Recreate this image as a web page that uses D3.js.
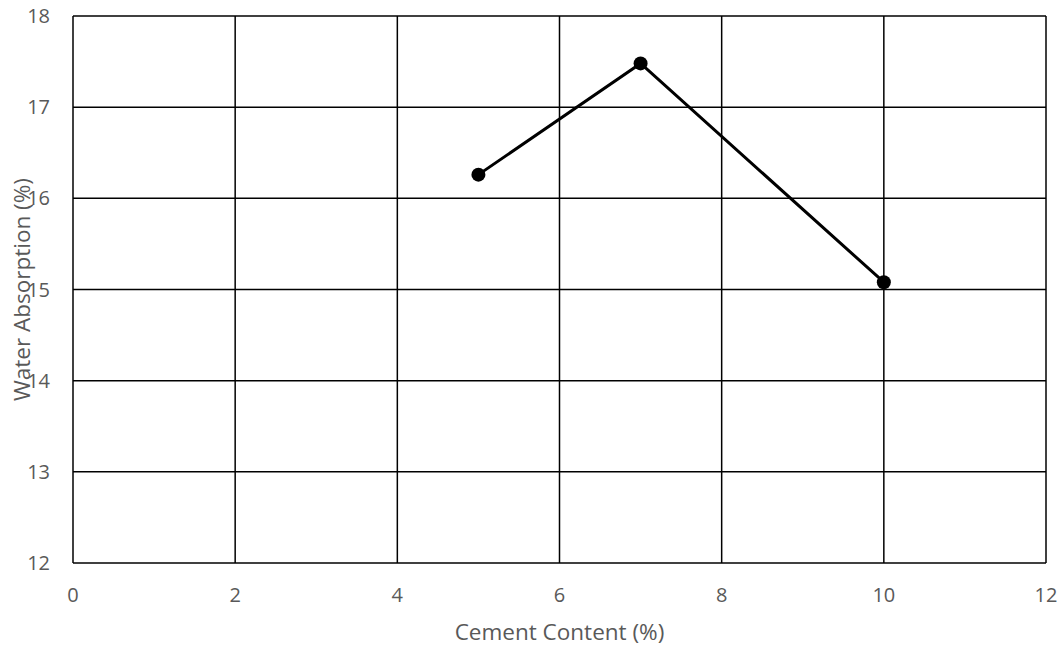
<!DOCTYPE html>
<html>
<head>
<meta charset="utf-8">
<script src="https://cdn.jsdelivr.net/npm/d3@7"></script>
<style>
  html, body { margin: 0; padding: 0; background: #fff; }
  svg { display: block; }
  text { font-family: "Open Sans", "Liberation Sans", sans-serif; fill: #595959; }
</style>
</head>
<body>
<svg id="chart" width="1064" height="648"></svg>
<script>
// Water absorption vs cement content
const cementContent = [5, 7, 10];
const waterAbsorption = [16.26, 17.48, 15.08];
const xTicks = [0, 2, 4, 6, 8, 10, 12];
const yTicks = [12, 13, 14, 15, 16, 17, 18];

const svg = d3.select("#chart");
const plotLeft = 73, plotRight = 1046, plotTop = 16, plotBottom = 563;

const x = d3.scaleLinear().domain([0, 12]).range([plotLeft, plotRight]);
const y = d3.scaleLinear().domain([12, 18]).range([plotBottom, plotTop]);

// gridlines
svg.append("g").selectAll("line").data(xTicks).join("line")
  .attr("x1", d => x(d)).attr("x2", d => x(d))
  .attr("y1", plotTop).attr("y2", plotBottom)
  .attr("stroke", "#000").attr("stroke-width", 1.5);
svg.append("g").selectAll("line").data(yTicks).join("line")
  .attr("x1", plotLeft).attr("x2", plotRight)
  .attr("y1", d => y(d)).attr("y2", d => y(d))
  .attr("stroke", "#000").attr("stroke-width", 1.5);

// tick labels
svg.append("g").selectAll("text").data(xTicks).join("text")
  .attr("x", d => x(d)).attr("y", 602)
  .attr("text-anchor", "middle")
  .attr("font-size", 20)
  .text(d => d);
svg.append("g").selectAll("text").data(yTicks).join("text")
  .attr("x", 50).attr("y", d => y(d) + 7)
  .attr("text-anchor", "end")
  .attr("font-size", 20)
  .text(d => d);

// axis titles
svg.append("text")
  .attr("x", (plotLeft + plotRight) / 2).attr("y", 640)
  .attr("text-anchor", "middle").attr("font-size", 22.5)
  .text("Cement Content (%)");
svg.append("text")
  .attr("transform", `translate(30,${(plotTop + plotBottom) / 2}) rotate(-90)`)
  .attr("text-anchor", "middle").attr("font-size", 22.5)
  .text("Water Absorption (%)");

// series
const pts = cementContent.map((c, i) => [c, waterAbsorption[i]]);
svg.append("path")
  .datum(pts)
  .attr("fill", "none").attr("stroke", "#000").attr("stroke-width", 3)
  .attr("d", d3.line().x(d => x(d[0])).y(d => y(d[1])));
svg.append("g").selectAll("circle").data(pts).join("circle")
  .attr("cx", d => x(d[0])).attr("cy", d => y(d[1]))
  .attr("r", 7).attr("fill", "#000");
</script>
</body>
</html>
